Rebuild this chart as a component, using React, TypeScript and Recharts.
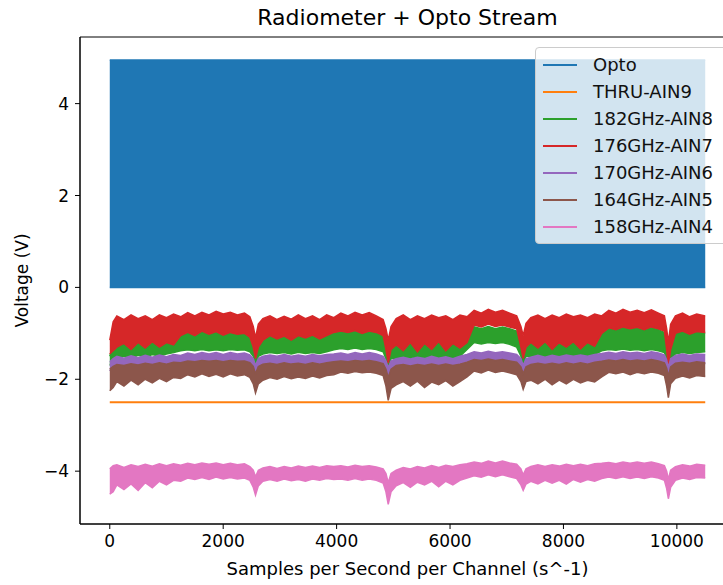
import React from 'react';
import { ComposedChart, Area, Line, XAxis, YAxis, Label, ReferenceArea } from 'recharts';

// sample positions (x) shared by the radiometer channels
const samples = [
  0, 60, 125, 250, 375, 500, 625, 750, 875, 1000, 1125, 1250,
  1375, 1500, 1625, 1750, 1875, 2000, 2125, 2250, 2375, 2470,
  2530, 2570, 2620,
  2700, 2825, 2950, 3075, 3200, 3325, 3450, 3575, 3700, 3825, 3950,
  4075, 4200, 4325, 4450, 4575, 4700, 4820,
  4870, 4910, 4960,
  5050, 5175, 5300, 5425, 5550, 5675, 5800, 5925, 6050, 6175, 6300,
  6425, 6550, 6675, 6800, 6925, 7050, 7175,
  7250, 7290, 7340,
  7425, 7550, 7675, 7800, 7925, 8050, 8175, 8300, 8425, 8550, 8675,
  8800, 8925, 9050, 9175, 9300, 9425, 9550, 9675, 9780,
  9820, 9850, 9890,
  9975, 10100, 10225, 10350, 10500,
];

// Opto square wave envelope
const optoX = [0, 10500];
const optoLow = [0, 0];
const optoHigh = [4.95, 4.95];

// THRU-AIN9 is flat
const thruX = [0, 2500, 5000, 7500, 10500];
const thruV = [-2.5, -2.5, -2.5, -2.5, -2.5];

const ain8Hi = [
  -1.5, -1.25, -1.15, -1.2, -1.12, -1.18, -1.1, -1.16, -1.08, -1.14, -1.0, -0.95,
  -0.9, -0.95, -0.88, -0.94, -0.9, -0.96, -0.9, -0.95, -0.92, -0.98,
  -1.2, -1.45, -1.2,
  -1.1, -1.04, -1.08, -1.02, -1.08, -1.03, -1.07, -1.02, -1.06, -1.0, -0.95,
  -0.9, -0.94, -0.88, -0.93, -0.9, -0.94, -1.0,
  -1.25, -1.5, -1.25,
  -1.2, -1.25, -1.18, -1.24, -1.2, -1.26, -1.2, -1.24, -1.2, -1.22, -1.0,
  -0.86, -0.9, -0.85, -0.9, -0.86, -0.9, -0.95,
  -1.2, -1.4, -1.2,
  -1.15, -1.2, -1.14, -1.2, -1.15, -1.2, -1.14, -1.18, -1.12, -1.16, -0.95,
  -0.88, -0.92, -0.87, -0.91, -0.88, -0.92, -0.88, -0.92, -0.98,
  -1.2, -1.45, -1.15,
  -1.0, -0.96, -1.02, -0.97, -1.0,
];
const ain8Lo = [
  -1.7, -1.62, -1.55, -1.5, -1.54, -1.48, -1.52, -1.46, -1.5, -1.45, -1.42, -1.38,
  -1.36, -1.38, -1.35, -1.38, -1.36, -1.38, -1.35, -1.37, -1.36, -1.4,
  -1.5, -1.72, -1.5,
  -1.45, -1.42, -1.44, -1.42, -1.45, -1.41, -1.44, -1.42, -1.44, -1.4, -1.36,
  -1.33, -1.35, -1.32, -1.35, -1.33, -1.35, -1.4,
  -1.55, -1.78, -1.55,
  -1.55, -1.52, -1.55, -1.5, -1.54, -1.52, -1.55, -1.5, -1.53, -1.5, -1.35,
  -1.2, -1.23, -1.2, -1.22, -1.2, -1.24, -1.3,
  -1.5, -1.68, -1.5,
  -1.5, -1.48, -1.52, -1.48, -1.5, -1.47, -1.5, -1.46, -1.5, -1.46, -1.38,
  -1.35, -1.37, -1.34, -1.37, -1.35, -1.38, -1.35, -1.38, -1.42,
  -1.55, -1.78, -1.55,
  -1.45, -1.42, -1.44, -1.42, -1.4,
];

const ain7Hi = [
  -1.15, -0.75, -0.62, -0.7, -0.6, -0.68, -0.62, -0.7, -0.6, -0.66, -0.58, -0.64,
  -0.55, -0.62, -0.54, -0.6, -0.52, -0.58, -0.54, -0.6, -0.56, -0.64,
  -0.85, -1.1, -0.8,
  -0.68, -0.62, -0.7, -0.63, -0.69, -0.6, -0.68, -0.62, -0.7, -0.6, -0.66,
  -0.56, -0.62, -0.54, -0.6, -0.55, -0.62, -0.7,
  -0.9, -1.15, -0.85,
  -0.68, -0.6, -0.7, -0.62, -0.68, -0.6, -0.66, -0.62, -0.7, -0.6, -0.64,
  -0.5, -0.56, -0.48, -0.54, -0.5, -0.56, -0.62,
  -0.85, -1.05, -0.78,
  -0.66, -0.6, -0.68, -0.6, -0.66, -0.58, -0.64, -0.6, -0.66, -0.58, -0.62,
  -0.5, -0.56, -0.48, -0.54, -0.5, -0.55, -0.49, -0.56, -0.62,
  -0.9, -1.2, -0.8,
  -0.62, -0.56, -0.64, -0.58, -0.62,
];
const ain7Lo = [
  -1.45, -1.38, -1.3, -1.22, -1.35, -1.2, -1.32, -1.18, -1.3, -1.2, -1.25, -1.05,
  -0.98, -1.05, -0.95, -1.02, -0.96, -1.04, -0.98, -1.02, -1.0, -1.08,
  -1.3, -1.55, -1.3,
  -1.15, -1.05, -1.12, -1.06, -1.15, -1.05, -1.1, -1.04, -1.12, -1.05, -0.98,
  -0.95, -0.98, -0.94, -1.0, -0.95, -0.98, -1.05,
  -1.35, -1.65, -1.35,
  -1.25, -1.38, -1.2, -1.4, -1.22, -1.35, -1.18, -1.38, -1.22, -1.32, -1.2,
  -0.82, -0.86, -0.8, -0.85, -0.82, -0.86, -0.9,
  -1.3, -1.55, -1.3,
  -1.2, -1.32, -1.18, -1.35, -1.2, -1.3, -1.18, -1.34, -1.2, -1.28, -1.0,
  -0.88, -0.92, -0.86, -0.9, -0.87, -0.92, -0.86, -0.9, -0.95,
  -1.35, -1.7, -1.35,
  -1.0, -0.95, -1.02, -0.96, -0.98,
];

const ain6Hi = [
  -1.62, -1.55, -1.5, -1.54, -1.49, -1.53, -1.48, -1.52, -1.47, -1.51, -1.46, -1.48,
  -1.43, -1.46, -1.42, -1.45, -1.42, -1.46, -1.42, -1.45, -1.43, -1.47,
  -1.55, -1.7, -1.55,
  -1.5, -1.47, -1.5, -1.46, -1.5, -1.47, -1.5, -1.46, -1.49, -1.46, -1.45,
  -1.43, -1.46, -1.42, -1.45, -1.42, -1.45, -1.5,
  -1.6, -1.75, -1.6,
  -1.55, -1.52, -1.56, -1.52, -1.55, -1.5, -1.54, -1.51, -1.55, -1.5, -1.46,
  -1.4, -1.43, -1.39, -1.42, -1.4, -1.43, -1.46,
  -1.55, -1.7, -1.55,
  -1.52, -1.48, -1.52, -1.48, -1.51, -1.47, -1.5, -1.47, -1.5, -1.46, -1.44,
  -1.41, -1.44, -1.4, -1.43, -1.41, -1.44, -1.4, -1.43, -1.47,
  -1.58, -1.75, -1.55,
  -1.48, -1.45, -1.48, -1.45, -1.46,
];
const ain6Lo = [
  -1.82, -1.75, -1.7, -1.72, -1.68, -1.71, -1.67, -1.7, -1.66, -1.68, -1.65, -1.66,
  -1.62, -1.64, -1.61, -1.63, -1.61, -1.64, -1.61, -1.63, -1.62, -1.66,
  -1.75, -1.9, -1.75,
  -1.69, -1.67, -1.7, -1.66, -1.69, -1.67, -1.7, -1.66, -1.69, -1.66, -1.64,
  -1.62, -1.64, -1.61, -1.63, -1.61, -1.64, -1.68,
  -1.8, -1.98, -1.8,
  -1.72, -1.7, -1.73, -1.7, -1.72, -1.69, -1.72, -1.69, -1.72, -1.69, -1.65,
  -1.59, -1.61, -1.58, -1.61, -1.59, -1.62, -1.65,
  -1.75, -1.9, -1.75,
  -1.7, -1.67, -1.7, -1.67, -1.7, -1.66, -1.69, -1.66, -1.69, -1.65, -1.63,
  -1.6, -1.62, -1.59, -1.62, -1.6, -1.62, -1.59, -1.62, -1.66,
  -1.78, -1.95, -1.75,
  -1.67, -1.65, -1.67, -1.64, -1.66,
];

const ain5Hi = [
  -1.78, -1.72, -1.68, -1.7, -1.66, -1.69, -1.65, -1.68, -1.64, -1.67, -1.63, -1.64,
  -1.6, -1.62, -1.59, -1.61, -1.59, -1.62, -1.59, -1.61, -1.6, -1.64,
  -1.72, -1.88, -1.72,
  -1.67, -1.65, -1.68, -1.64, -1.67, -1.65, -1.68, -1.64, -1.67, -1.64, -1.62,
  -1.6, -1.62, -1.59, -1.61, -1.59, -1.62, -1.66,
  -1.78, -1.96, -1.78,
  -1.7, -1.68, -1.71, -1.68, -1.7, -1.67, -1.7, -1.67, -1.7, -1.67, -1.63,
  -1.57, -1.59, -1.56, -1.59, -1.57, -1.6, -1.63,
  -1.73, -1.88, -1.73,
  -1.68, -1.65, -1.68, -1.65, -1.68, -1.64, -1.67, -1.64, -1.67, -1.63, -1.61,
  -1.58, -1.6, -1.57, -1.6, -1.58, -1.6, -1.57, -1.6, -1.64,
  -1.76, -1.93, -1.73,
  -1.65, -1.63, -1.65, -1.62, -1.64,
];
const ain5Lo = [
  -2.25, -2.18, -2.05, -2.15, -2.02, -2.12, -2.0, -2.08, -1.98, -2.05, -1.96, -1.98,
  -1.9, -1.95, -1.88, -1.94, -1.89, -1.95, -1.88, -1.93, -1.9, -1.96,
  -2.1, -2.3, -2.1,
  -2.02, -1.96, -2.0, -1.94, -1.99, -1.95, -1.98, -1.93, -1.97, -1.92, -1.9,
  -1.84, -1.87, -1.83, -1.86, -1.84, -1.87, -1.92,
  -2.15, -2.46, -2.2,
  -2.12, -2.05, -2.15, -2.04, -2.18, -2.06, -2.12, -2.03, -2.15, -2.05, -1.95,
  -1.82, -1.86, -1.8, -1.85, -1.82, -1.86, -1.9,
  -2.05, -2.22, -2.05,
  -2.02, -2.1, -2.0, -2.12, -2.02, -2.1, -2.0, -2.08, -2.02, -2.06, -1.95,
  -1.85, -1.88, -1.84, -1.9, -1.85, -1.88, -1.84, -1.87, -1.92,
  -2.15, -2.4, -2.1,
  -1.98, -1.93, -1.97, -1.92, -1.94,
];

const ain4Hi = [
  -3.95, -3.88, -3.86, -3.92, -3.86, -3.9, -3.85, -3.89, -3.84, -3.88, -3.84, -3.87,
  -3.83, -3.86, -3.82, -3.85, -3.82, -3.86, -3.83, -3.86, -3.84, -3.9,
  -3.98, -4.12, -3.98,
  -3.93, -3.9, -3.94, -3.9, -3.93, -3.89, -3.92, -3.89, -3.92, -3.88, -3.9,
  -3.88, -3.91, -3.87, -3.9, -3.88, -3.91, -3.95,
  -4.05, -4.25, -4.05,
  -3.98, -3.92, -3.95, -3.9, -3.93, -3.88, -3.92, -3.87, -3.9, -3.86, -3.84,
  -3.8, -3.83, -3.78, -3.82, -3.78, -3.82, -3.85,
  -3.95, -4.08, -3.95,
  -3.9, -3.86, -3.9, -3.86, -3.89, -3.85, -3.88, -3.85, -3.88, -3.84, -3.83,
  -3.81, -3.84, -3.8, -3.83, -3.8, -3.83, -3.8, -3.84, -3.88,
  -4.0, -4.18, -3.98,
  -3.9, -3.86, -3.89, -3.85, -3.87,
];
const ain4Lo = [
  -4.5, -4.45, -4.3, -4.4, -4.28, -4.42, -4.25, -4.36, -4.22, -4.3, -4.2, -4.22,
  -4.15, -4.18, -4.14, -4.18, -4.13, -4.17, -4.14, -4.17, -4.15, -4.2,
  -4.35, -4.52, -4.32,
  -4.22, -4.18, -4.22, -4.17, -4.21, -4.18, -4.22, -4.17, -4.2, -4.16, -4.18,
  -4.17, -4.2, -4.16, -4.2, -4.17, -4.2, -4.26,
  -4.45, -4.72, -4.45,
  -4.32, -4.25, -4.35, -4.24, -4.3, -4.22, -4.34, -4.22, -4.3, -4.2, -4.15,
  -4.1, -4.13, -4.08, -4.12, -4.08, -4.12, -4.16,
  -4.3, -4.42, -4.28,
  -4.22, -4.28, -4.2, -4.26, -4.2, -4.28, -4.18, -4.24, -4.18, -4.22, -4.16,
  -4.13, -4.16, -4.12, -4.16, -4.13, -4.16, -4.12, -4.15, -4.2,
  -4.38, -4.6, -4.35,
  -4.2, -4.15, -4.18, -4.14, -4.15,
];

const xTicks = [0, 2000, 4000, 6000, 8000, 10000];
const yTicks = [-4, -2, 0, 2, 4];

const font = "'DejaVu Sans', sans-serif";

const band = (xs: number[], lo: number[], hi: number[]) =>
  xs.map((s, i) => ({ s, v: [lo[i], hi[i]] }));

const bands = [
  { name: '182GHz-AIN8', color: '#2ca02c', data: band(samples, ain8Lo, ain8Hi) },
  { name: '176GHz-AIN7', color: '#d62728', data: band(samples, ain7Lo, ain7Hi) },
  { name: '170GHz-AIN6', color: '#9467bd', data: band(samples, ain6Lo, ain6Hi) },
  { name: '164GHz-AIN5', color: '#8c564b', data: band(samples, ain5Lo, ain5Hi) },
  { name: '158GHz-AIN4', color: '#e377c2', data: band(samples, ain4Lo, ain4Hi) },
];

const optoData = band(optoX, optoLow, optoHigh);
const thruData = thruX.map((s, i) => ({ s, v: thruV[i] }));

const legendItems = [
  { name: 'Opto', color: '#1f77b4' },
  { name: 'THRU-AIN9', color: '#ff7f0e' },
  ...bands.map((b) => ({ name: b.name, color: b.color })),
];

const fmt = (v: number) => (v < 0 ? '\u2212' + Math.abs(v) : String(v));

export default function App() {
  return (
    <div style={{ position: 'absolute', left: 0, top: 0, width: 723, height: 585, overflow: 'hidden', background: '#fff', fontFamily: font }}>
      <div style={{ position: 'absolute', left: 0, top: 5, width: 815, textAlign: 'center', fontSize: 22, lineHeight: '26px', color: '#000' }}>
        Radiometer + Opto Stream
      </div>
      <div style={{ position: 'absolute', left: 0, top: 0 }}>
        <ComposedChart width={760} height={585} margin={{ top: 37, right: 25, bottom: 31, left: 0 }}>
          <XAxis
            dataKey="s"
            type="number"
            domain={[-525, 11025]}
            allowDataOverflow
            ticks={xTicks}
            interval={0}
            height={30}
            tickSize={5}
            tickMargin={6}
            stroke="#000"
            tick={{ fill: '#000', fontSize: 17, fontFamily: font }}
          >
            <Label value="Samples per Second per Channel (s^-1)" position="bottom" offset={8} style={{ fontSize: 18, fontFamily: font, fill: '#000' }} />
          </XAxis>
          <YAxis
            type="number"
            domain={[-5.15, 5.45]}
            allowDataOverflow
            ticks={yTicks}
            interval={0}
            width={80}
            tickSize={5}
            tickMargin={6}
            tickFormatter={fmt}
            stroke="#000"
            tick={{ fill: '#000', fontSize: 17, fontFamily: font }}
          >
            <Label value="Voltage (V)" angle={-90} position="insideLeft" offset={22} style={{ textAnchor: 'middle', fontSize: 17, fontFamily: font, fill: '#000' }} />
          </YAxis>
          <ReferenceArea x1={-525} x2={11025} y1={-5.15} y2={5.45} fill="none" stroke="#000" strokeWidth={1} ifOverflow="visible" />
          <Area
            data={optoData}
            dataKey="v"
            type="linear"
            stroke="#1f77b4"
            strokeWidth={1.5}
            fill="#1f77b4"
            fillOpacity={1}
            dot={false}
            activeDot={false}
            isAnimationActive={false}
          />
          <Line
            data={thruData}
            dataKey="v"
            type="linear"
            stroke="#ff7f0e"
            strokeWidth={2}
            dot={false}
            activeDot={false}
            isAnimationActive={false}
          />
          {bands.map((b) => (
            <Area
              key={b.name}
              data={b.data}
              dataKey="v"
              type="linear"
              stroke={b.color}
              strokeWidth={1.5}
              fill={b.color}
              fillOpacity={1}
              dot={false}
              activeDot={false}
              isAnimationActive={false}
            />
          ))}
        </ComposedChart>
      </div>
      <div
        style={{
          position: 'absolute',
          left: 535,
          top: 47,
          width: 192,
          height: 197,
          background: 'rgba(255,255,255,0.8)',
          border: '1px solid #ccc',
          borderRadius: 4,
          boxSizing: 'border-box',
        }}
      >
        {legendItems.map((it, i) => (
          <div key={it.name} style={{ position: 'absolute', left: 0, top: 3 + i * 27, height: 27, display: 'flex', alignItems: 'center' }}>
            <div style={{ marginLeft: 7, width: 34, height: 2, background: it.color }} />
            <div style={{ marginLeft: 16, fontSize: 18, color: '#111', whiteSpace: 'nowrap' }}>{it.name}</div>
          </div>
        ))}
      </div>
    </div>
  );
}
